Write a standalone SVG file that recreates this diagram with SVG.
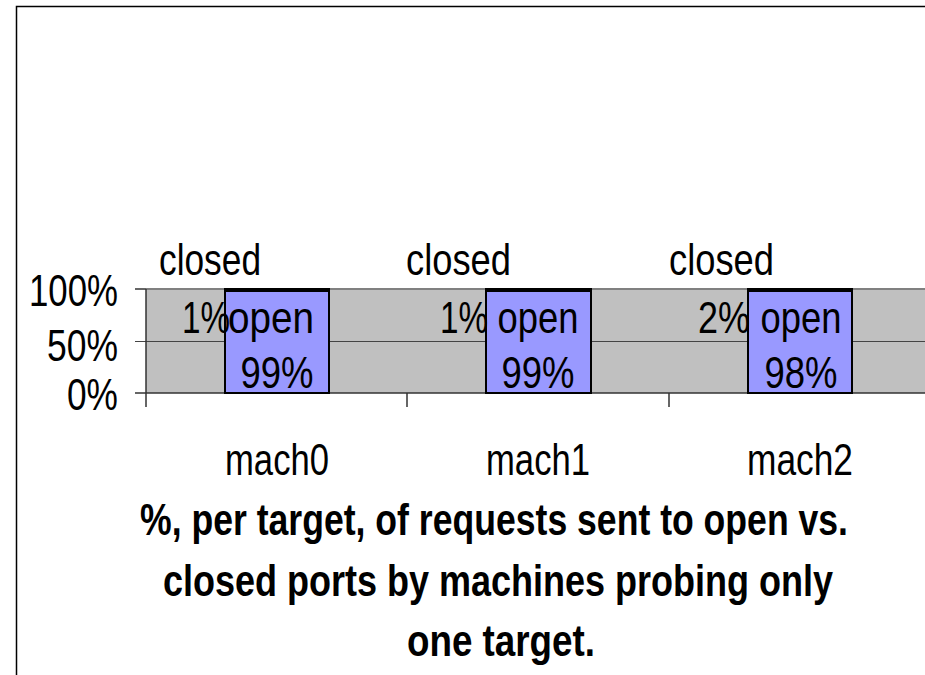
<svg xmlns="http://www.w3.org/2000/svg" width="925" height="675" viewBox="0 0 925 675">
<style>
text{font-family:"Liberation Sans",Arial,sans-serif;font-size:44px;fill:#000}
.b{font-weight:bold;font-size:44px}
.bar{fill:#9999FF;stroke:#000;stroke-width:2}
.cl{fill:#000}
.ax{stroke:#333;stroke-width:1.5;fill:none}
.gr{stroke:#444;stroke-width:1.2}
</style>
<rect x="0" y="0" width="925" height="675" fill="#fff"/>
<path d="M16.5 675 V6.5 H925" fill="none" stroke="#000" stroke-width="1.5"/>
<g id="plot">
<rect x="146" y="289" width="779" height="104" fill="#C0C0C0"/>
<line x1="146" y1="289" x2="925" y2="289" stroke="#808080" stroke-width="2"/>
<line x1="135" y1="341.5" x2="925" y2="341.5" class="gr"/>
<line x1="135" y1="393" x2="925" y2="393" class="ax"/>
<line x1="135" y1="289" x2="146" y2="289" class="ax"/>
<line x1="146" y1="289" x2="146" y2="407" class="ax"/>
<line x1="407" y1="393" x2="407" y2="407" class="ax"/>
<line x1="669" y1="393" x2="669" y2="407" class="ax"/>
</g>
<g id="yaxis">
<text x="118" y="306" text-anchor="end" textLength="89" lengthAdjust="spacingAndGlyphs">100%</text>
<text x="118" y="361" text-anchor="end" textLength="71" lengthAdjust="spacingAndGlyphs">50%</text>
<text x="118" y="410" text-anchor="end" textLength="51" lengthAdjust="spacingAndGlyphs">0%</text>
</g>
<g id="mach0">
<rect class="bar" x="225" y="290" width="104" height="103"/>
<rect class="cl" x="224" y="288" width="106" height="4"/>
<text x="159" y="275" textLength="102" lengthAdjust="spacingAndGlyphs">closed</text>
<text x="230" y="333" text-anchor="end" textLength="48" lengthAdjust="spacingAndGlyphs">1%</text>
<text x="271" y="333" text-anchor="middle" textLength="86" lengthAdjust="spacingAndGlyphs">open</text>
<text x="277" y="388" text-anchor="middle" textLength="73" lengthAdjust="spacingAndGlyphs">99%</text>
<text x="277" y="475" text-anchor="middle" textLength="104" lengthAdjust="spacingAndGlyphs">mach0</text>
</g>
<g id="mach1">
<rect class="bar" x="486" y="290" width="105" height="103"/>
<rect class="cl" x="485" y="288" width="107" height="4"/>
<text x="406" y="275" textLength="105" lengthAdjust="spacingAndGlyphs">closed</text>
<text x="488" y="333" text-anchor="end" textLength="48" lengthAdjust="spacingAndGlyphs">1%</text>
<text x="538" y="333" text-anchor="middle" textLength="81" lengthAdjust="spacingAndGlyphs">open</text>
<text x="538" y="388" text-anchor="middle" textLength="73" lengthAdjust="spacingAndGlyphs">99%</text>
<text x="538" y="475" text-anchor="middle" textLength="104" lengthAdjust="spacingAndGlyphs">mach1</text>
</g>
<g id="mach2">
<rect class="bar" x="748" y="290" width="104" height="103"/>
<rect class="cl" x="747" y="288" width="106" height="4"/>
<text x="669" y="275" textLength="105" lengthAdjust="spacingAndGlyphs">closed</text>
<text x="750" y="333" text-anchor="end" textLength="52" lengthAdjust="spacingAndGlyphs">2%</text>
<text x="801" y="333" text-anchor="middle" textLength="81" lengthAdjust="spacingAndGlyphs">open</text>
<text x="801" y="388" text-anchor="middle" textLength="73" lengthAdjust="spacingAndGlyphs">98%</text>
<text x="800" y="475" text-anchor="middle" textLength="106" lengthAdjust="spacingAndGlyphs">mach2</text>
</g>
<g id="title">
<text class="b" x="140" y="535" textLength="708" lengthAdjust="spacingAndGlyphs">%, per target, of requests sent to open vs.</text>
<text class="b" x="163" y="596" textLength="670" lengthAdjust="spacingAndGlyphs">closed ports by machines probing only</text>
<text class="b" x="407" y="656" textLength="188" lengthAdjust="spacingAndGlyphs">one target.</text>
</g>
</svg>
